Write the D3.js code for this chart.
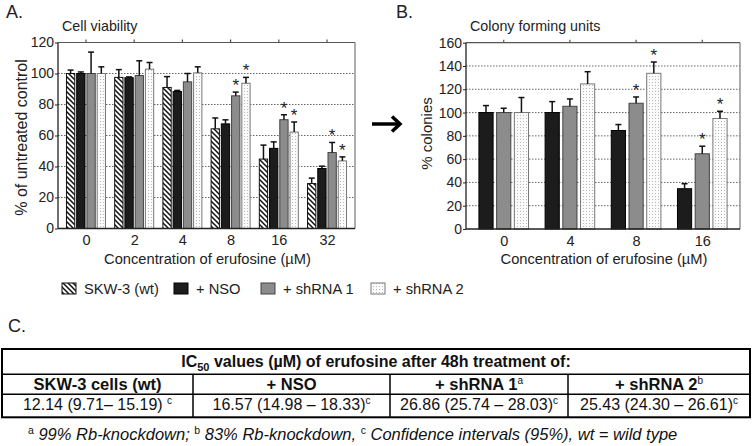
<!DOCTYPE html>
<html><head><meta charset="utf-8">
<script src="https://cdn.jsdelivr.net/npm/d3@7"></script>
<style>body{margin:0;background:#fff} svg{display:block;font-family:"Liberation Sans",Arial,sans-serif}</style>
</head><body><svg id="c" width="755" height="446"></svg>
<script>
// ---------- data ----------
const seriesNames = ["SKW-3 (wt)", "+ NSO", "+ shRNA 1", "+ shRNA 2"];
const concA = ["0", "2", "4", "8", "16", "32"];
const skwA = [100, 97.5, 91, 64.3, 44.8, 29];
const skwErrA = [2.2, 5, 7, 7, 9, 3.5];
const nsoA = [100, 97.3, 88.4, 67.5, 51.7, 38.7];
const nsoErrA = [1, 0.5, 0.7, 2.6, 4.2, 1.5];
const sh1A = [100, 98.7, 94.6, 85.6, 70.2, 49];
const sh1ErrA = [13.8, 9.5, 5.4, 2.4, 3.2, 6.5];
const sh2A = [100, 102.8, 100.4, 93.7, 62.2, 43.6];
const sh2ErrA = [4.3, 4.3, 3.9, 3.8, 6.5, 2.6];
const sh1SigA = [0, 0, 0, 1, 1, 1];
const sh2SigA = [0, 0, 0, 1, 1, 1];
const yTicksA = [0, 20, 40, 60, 80, 100, 120];

const concB = ["0", "4", "8", "16"];
const nsoB = [100, 100, 84.6, 34.6];
const nsoErrB = [6, 9.4, 5.1, 4.3];
const sh1B = [100, 105.4, 108, 64.6];
const sh1ErrB = [3.7, 6.3, 5.4, 6.5];
const sh2B = [100, 124.6, 133.7, 94.9];
const sh2ErrB = [12.9, 10.5, 9.7, 6.2];
const sh1SigB = [0, 0, 1, 1];
const sh2SigB = [0, 0, 1, 1];
const yTicksB = [0, 20, 40, 60, 80, 100, 120, 140, 160];

const tableTitle = " values (µM) of erufosine after 48h treatment of:";
const tableCols = ["SKW-3 cells (wt)", "+ NSO", "+ shRNA 1", "+ shRNA 2"];
const tableColSup = ["", "", "a", "b"];
const ic50Values = ["12.14 (9.71– 15.19) ", "16.57 (14.98 – 18.33)", "26.86 (25.74 – 28.03)", "25.43 (24.30 – 26.61)"];
const footParts = [["a", " 99% Rb-knockdown; "], ["b", " 83% Rb-knockdown, "], ["c", " Confidence intervals (95%), wt = wild type"]];

// ---------- setup ----------
const svg = d3.select("#c");
svg.append("rect").attr("width", 755).attr("height", 446).attr("fill", "#fff");
const defs = svg.append("defs");
const hatch = defs.append("pattern").attr("id", "hatch").attr("patternUnits", "userSpaceOnUse")
  .attr("width", 5).attr("height", 5);
hatch.append("rect").attr("width", 5).attr("height", 5).attr("fill", "#fff");
hatch.append("path").attr("d", "M0,0 L5,5 M-1,4 L1,6 M4,-1 L6,1")
  .attr("stroke", "#111").attr("stroke-width", 1.5);
const dots = defs.append("pattern").attr("id", "dots").attr("patternUnits", "userSpaceOnUse")
  .attr("width", 3).attr("height", 3);
dots.append("rect").attr("width", 3).attr("height", 3).attr("fill", "#fbfbfb");
dots.append("rect").attr("x", 1).attr("y", 1).attr("width", 1).attr("height", 1).attr("fill", "#b8b8b8");

const styles = {
  hatch: {fill: "url(#hatch)", stroke: "#111"},
  nso: {fill: "#1c1c1c", stroke: "#000"},
  sh1: {fill: "#8c8c8c", stroke: "#444"},
  sh2: {fill: "url(#dots)", stroke: "#777"}
};

function panel(o) {
  const g = svg.append("g");
  const x = d3.scalePoint().domain(o.cats).range([o.x0, o.x1]).padding(o.xPad);
  const inner = d3.scaleBand().domain(d3.range(o.series.length))
    .range([-o.groupW / 2, o.groupW / 2]).paddingInner(o.innerPad);
  const y = d3.scaleLinear().domain([0, o.yMax]).range([o.y0, o.y1]);

  // grid
  g.append("g").selectAll("line").data(o.ticks.filter(t => t > 0 && t < o.yMax)).join("line")
    .attr("x1", o.x0).attr("x2", o.x1).attr("y1", d => y(d)).attr("y2", d => y(d))
    .attr("stroke", "#666").attr("stroke-width", 1).attr("stroke-dasharray", "1.5,1.5");

  // frame top & right
  g.append("line").attr("x1", o.x0).attr("x2", o.x1).attr("y1", y(o.yMax)).attr("y2", y(o.yMax))
    .attr("stroke", "#555").attr("stroke-width", 1.2);
  g.append("line").attr("x1", o.x1).attr("x2", o.x1).attr("y1", y(o.yMax)).attr("y2", o.y0)
    .attr("stroke", "#777").attr("stroke-width", 1.2);
  // top ticks
  g.append("g").selectAll("line").data(o.cats).join("line")
    .attr("x1", d => x(d)).attr("x2", d => x(d)).attr("y1", y(o.yMax)).attr("y2", y(o.yMax) - 3)
    .attr("stroke", "#555").attr("stroke-width", 1.2);

  // bars
  o.series.forEach((s, si) => {
    const st = styles[s.style];
    const sg = g.append("g");
    const bw = inner.bandwidth();
    const cx = (d, i) => x(o.cats[i]) + inner(si) + bw / 2;
    sg.selectAll("rect").data(s.means).join("rect")
      .attr("x", (d, i) => x(o.cats[i]) + inner(si))
      .attr("y", d => y(d)).attr("width", bw).attr("height", d => o.y0 - y(d))
      .attr("fill", st.fill).attr("stroke", st.stroke).attr("stroke-width", 1);
    sg.selectAll("line.eb").data(s.means).join("line").attr("class", "eb")
      .attr("x1", cx).attr("x2", cx).attr("y1", d => y(d)).attr("y2", (d, i) => y(d + s.errs[i]))
      .attr("stroke", "#111").attr("stroke-width", 1.5);
    sg.selectAll("line.cap").data(s.means).join("line").attr("class", "cap")
      .attr("x1", (d, i) => cx(d, i) - 3).attr("x2", (d, i) => cx(d, i) + 3)
      .attr("y1", (d, i) => y(d + s.errs[i])).attr("y2", (d, i) => y(d + s.errs[i]))
      .attr("stroke", "#111").attr("stroke-width", 1.5);
    if (s.sig) {
      sg.selectAll("text").data(s.means.map((d, i) => ({d, i})).filter(e => s.sig[e.i])).join("text")
        .attr("x", e => cx(e.d, e.i)).attr("y", e => y(e.d + s.errs[e.i]) - 1)
        .attr("text-anchor", "middle").attr("font-size", 17).attr("fill", "#222").text("*");
    }
  });

  // axes
  const ya = g.append("g").attr("transform", `translate(${o.x0},0)`)
    .call(d3.axisLeft(y).tickValues(o.ticks).tickSize(3).tickPadding(1).tickFormat(d3.format("d")));
  ya.select(".domain").attr("stroke", "#222").attr("stroke-width", 1.3).attr("d", `M0,${o.y0}V${y(o.yMax)}`);
  ya.selectAll(".tick line").attr("stroke", "#222");
  ya.selectAll("text").attr("font-size", 14).attr("fill", "#222").attr("font-family", "Liberation Sans, Arial, sans-serif");
  const xa = g.append("g").attr("transform", `translate(0,${o.y0})`)
    .call(d3.axisBottom(x).tickSize(0).tickPadding(6.5));
  xa.select(".domain").attr("stroke", "#222").attr("stroke-width", 1.3).attr("d", `M${o.x0},0H${o.x1}`);
  xa.selectAll("text").attr("font-size", 14.5).attr("fill", "#222").attr("font-family", "Liberation Sans, Arial, sans-serif");

  // titles
  g.append("text").attr("x", o.x0 + 4).attr("y", 31).attr("font-size", 14.3).attr("fill", "#222").text(o.title);
  g.append("text").attr("x", (o.x0 + o.x1) / 2 + 1).attr("y", 264).attr("text-anchor", "middle")
    .attr("font-size", 14.7).attr("fill", "#222").text("Concentration of erufosine (µM)");
  g.append("text").attr("transform", `translate(${o.yTitleX},${o.yTitleY}) rotate(-90)`)
    .attr("text-anchor", "middle").attr("font-size", o.yTitleSize).attr("fill", "#222").text(o.yTitle);
  g.append("text").attr("x", o.labelX).attr("y", 18).attr("font-size", 18).attr("fill", "#222").text(o.label);
}

panel({
  x0: 58, x1: 355, y0: 228.5, y1: 42.5, cats: concA, yMax: 120, ticks: yTicksA, xPad: 0.58,
  groupW: 39, innerPad: 0.19, title: "Cell viability", yTitle: "% of untreated control",
  yTitleX: 27, yTitleY: 137.5, yTitleSize: 16, label: "A.", labelX: 6,
  series: [
    {means: skwA, errs: skwErrA, sig: null, style: "hatch"},
    {means: nsoA, errs: nsoErrA, sig: null, style: "nso"},
    {means: sh1A, errs: sh1ErrA, sig: sh1SigA, style: "sh1"},
    {means: sh2A, errs: sh2ErrA, sig: sh2SigA, style: "sh2"}
  ]
});
panel({
  x0: 466, x1: 740, y0: 229, y1: 42.7, cats: concB, yMax: 160, ticks: yTicksB, xPad: 0.57,
  groupW: 49.6, innerPad: 0.2, title: "Colony forming units", yTitle: "% colonies",
  yTitleX: 432, yTitleY: 133.5, yTitleSize: 15, label: "B.", labelX: 396,
  series: [
    {means: nsoB, errs: nsoErrB, sig: null, style: "nso"},
    {means: sh1B, errs: sh1ErrB, sig: sh1SigB, style: "sh1"},
    {means: sh2B, errs: sh2ErrB, sig: sh2SigB, style: "sh2"}
  ]
});

// legend
const legStyles = ["hatch", "nso", "sh1", "sh2"];
const legX = [62, 174, 261, 371];
const lg = svg.append("g");
seriesNames.forEach((n, i) => {
  const st = styles[legStyles[i]];
  lg.append("rect").attr("x", legX[i]).attr("y", 283).attr("width", 14).attr("height", 11)
    .attr("fill", st.fill).attr("stroke", st.stroke).attr("stroke-width", 1);
  lg.append("text").attr("x", legX[i] + 22).attr("y", 294).attr("font-size", 14.7).attr("fill", "#222").text(n);
});

// arrow
svg.append("path").attr("d", "M372,124 H399").attr("stroke", "#000").attr("stroke-width", 3.5).attr("fill", "none");
svg.append("path").attr("d", "M392,116.5 L400,124 L392,131.5").attr("stroke", "#000").attr("stroke-width", 3.5)
  .attr("fill", "none").attr("stroke-linejoin", "miter");

// ---------- table ----------
svg.append("text").attr("x", 8).attr("y", 332).attr("font-size", 18).attr("fill", "#222").text("C.");
const rowsY = [349, 374.3, 394.3, 417.3];
const colsX = [2, 193, 390, 568, 750];
const tg = svg.append("g");
tg.append("rect").attr("x", colsX[0]).attr("y", rowsY[0]).attr("width", colsX[4] - colsX[0])
  .attr("height", rowsY[3] - rowsY[0]).attr("fill", "none").attr("stroke", "#000").attr("stroke-width", 2);
tg.selectAll("line.h").data([rowsY[1], rowsY[2]]).join("line").attr("class", "h")
  .attr("x1", colsX[0]).attr("x2", colsX[4]).attr("y1", d => d).attr("y2", d => d)
  .attr("stroke", "#000").attr("stroke-width", 1.5);
tg.selectAll("line.v").data(colsX.slice(1, 4)).join("line").attr("class", "v")
  .attr("x1", d => d).attr("x2", d => d).attr("y1", rowsY[1]).attr("y2", rowsY[3])
  .attr("stroke", "#000").attr("stroke-width", 1.5);

const t1 = tg.append("text").attr("x", (colsX[0] + colsX[4]) / 2).attr("y", 367).attr("text-anchor", "middle")
  .attr("font-size", 16).attr("font-weight", "bold").attr("fill", "#111");
t1.append("tspan").text("IC");
t1.append("tspan").attr("dy", 4).attr("font-size", 11).text("50");
t1.append("tspan").attr("dy", -4).text(tableTitle);

tableCols.forEach((c, i) => {
  const cx = (colsX[i] + colsX[i + 1]) / 2;
  const t = tg.append("text").attr("x", cx).attr("y", 390).attr("text-anchor", "middle")
    .attr("font-size", 16.5).attr("font-weight", "bold").attr("fill", "#111");
  t.append("tspan").text(c);
  if (tableColSup[i]) t.append("tspan").attr("dy", -6).attr("font-size", 10).attr("font-weight", "normal").text(tableColSup[i]);
  const v = tg.append("text").attr("x", cx).attr("y", 410).attr("text-anchor", "middle")
    .attr("font-size", 16).attr("fill", "#111");
  v.append("tspan").text(ic50Values[i]);
  v.append("tspan").attr("dy", -6).attr("font-size", 10).text("c");
});

const ft = svg.append("text").attr("x", 28).attr("y", 440).attr("font-size", 16.5)
  .attr("font-style", "italic").attr("fill", "#111");
footParts.forEach(([sup, txt]) => {
  ft.append("tspan").attr("dy", -6).attr("font-size", 10.5).attr("font-style", "normal").text(sup);
  ft.append("tspan").attr("dy", 6).text(txt);
});
</script></body></html>
